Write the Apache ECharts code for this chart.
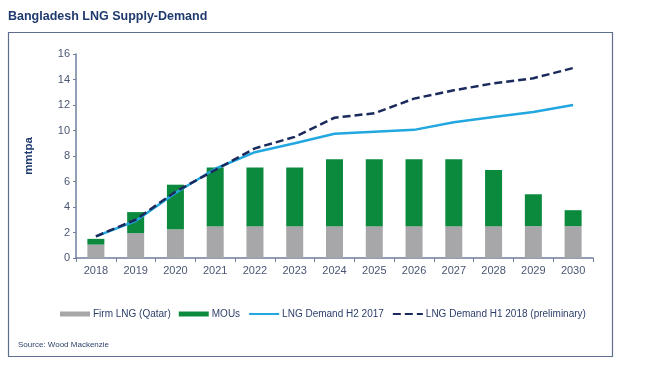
<!DOCTYPE html>
<html><head><meta charset="utf-8">
<script src="https://cdn.jsdelivr.net/npm/echarts@6/dist/echarts.min.js"></script>
<style>html,body{margin:0;padding:0;background:#fff}#c{width:665px;height:382px}</style>
</head><body><div id="c"></div>
<script>
const years = ['2018','2019','2020','2021','2022','2023','2024','2025','2026','2027','2028','2029','2030'];
const firmLNG = [1.05, 1.95, 2.25, 2.5, 2.5, 2.5, 2.5, 2.5, 2.5, 2.5, 2.5, 2.5, 2.5];
const mous = [0.45, 1.65, 3.5, 4.6, 4.6, 4.6, 5.25, 5.25, 5.25, 5.25, 4.4, 2.5, 1.25];
const demandH2017 = [1.7, 2.9, 5.1, 7.0, 8.3, 9.0, 9.75, 9.9, 10.05, 10.65, 11.05, 11.45, 12.0];
const demandH2018 = [1.7, 3.0, 5.2, 6.9, 8.6, 9.5, 11.0, 11.35, 12.5, 13.15, 13.7, 14.1, 14.9];
const yTicks = [0, 2, 4, 6, 8, 10, 12, 14, 16];

const axisCol = '#6f7e9b';
const txtCol = '#4a5673';
const font = 'Liberation Sans, Arial, sans-serif';
const chart = echarts.init(document.getElementById('c'));
chart.setOption({
  animation: false,
  textStyle: {fontFamily: font},
  title: {text: 'Bangladesh LNG Supply-Demand', left: 3, top: 5,
    textStyle: {fontSize: 12.5, fontWeight: 'bold', color: '#1f3a6e', fontFamily: font}},
  graphic: [
    {type: 'rect', shape: {x: 8.5, y: 32.5, width: 604, height: 324},
     style: {fill: 'none', stroke: '#5d6e8f', lineWidth: 1.2}},
    {type: 'text', left: 18, top: 341,
     style: {text: 'Source: Wood Mackenzie', fontSize: 8, fill: '#2d3f6a', fontFamily: font}}
  ],
  legend: {
    left: 55, top: 304, itemGap: 8, itemWidth: 30, itemHeight: 5,
    textStyle: {fontSize: 10, color: '#2d3f6a', fontFamily: font, padding: [0,0,0,-2]},
    data: [
      {name: 'Firm LNG (Qatar)', icon: 'rect'},
      {name: 'MOUs', icon: 'rect'},
      {name: 'LNG Demand H2 2017', itemStyle: {opacity: 0}},
      {name: 'LNG Demand H1 2018 (preliminary)', itemStyle: {opacity: 0}}
    ]
  },
  grid: {left: 76, right: 72, top: 54, bottom: 124},
  xAxis: {
    type: 'category', data: years,
    axisLine: {lineStyle: {color: axisCol, width: 1.5}},
    axisTick: {show: true, length: 4, alignWithLabel: false, lineStyle: {color: axisCol}},
    axisLabel: {fontSize: 11, color: txtCol, margin: 7}
  },
  yAxis: {
    type: 'value', min: 0, max: 16, interval: 2,
    name: 'mmtpa', nameLocation: 'middle', nameGap: 41, nameRotate: 90,
    nameTextStyle: {fontSize: 11.5, fontWeight: 'bold', color: '#1f3a6e'},
    axisLine: {show: true, lineStyle: {color: axisCol, width: 1.5}},
    axisTick: {show: true, length: 3, lineStyle: {color: axisCol}},
    splitLine: {show: false},
    axisLabel: {fontSize: 11, color: txtCol, margin: 6,
      formatter: v => yTicks.includes(v) ? String(v) : ''}
  },
  series: [
    {name: 'Firm LNG (Qatar)', type: 'bar', stack: 's', data: firmLNG, barWidth: 17,
     itemStyle: {color: '#a7a7a9'}},
    {name: 'MOUs', type: 'bar', stack: 's', data: mous, barWidth: 17,
     itemStyle: {color: '#0b8a3e'}},
    {name: 'LNG Demand H2 2017', type: 'line', data: demandH2017, symbol: 'none',
     lineStyle: {color: '#23a7e0', width: 2.5}, itemStyle: {color: '#23a7e0'}},
    {name: 'LNG Demand H1 2018 (preliminary)', type: 'line', data: demandH2018, symbol: 'none',
     lineStyle: {color: '#1b2a5c', width: 2.5, type: [8, 4]}, itemStyle: {color: '#1b2a5c'}}
  ]
});
</script></body></html>
